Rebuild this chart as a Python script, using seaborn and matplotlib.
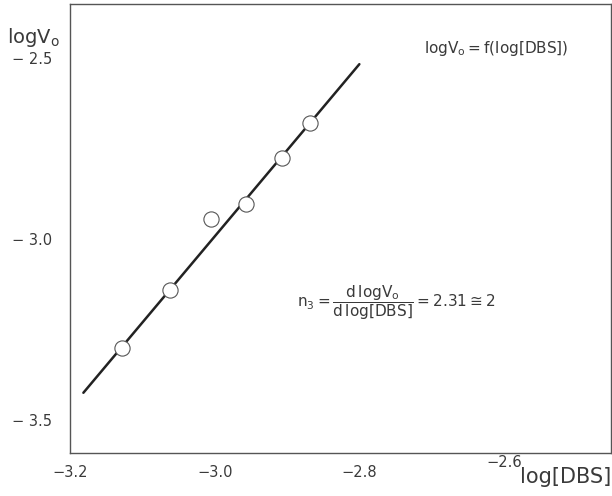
import numpy as np
import pandas as pd
import seaborn as sns
import matplotlib.pyplot as plt

log_dbs = [-3.128, -3.062, -3.005, -2.957, -2.907, -2.868]
log_v0 = [-3.301, -3.141, -2.945, -2.903, -2.776, -2.680]

# drawn regression line (end points)
fit_x = [-3.182, -2.800]
fit_y = [-3.425, -2.517]

xticks_major = [-3.2, -3.0, -2.8, -2.6]
xticks_minor = [-3.1, -2.9, -2.7, -2.5]
yticks = [-2.5, -3.0, -3.5]

sns.set_style("white")
plt.rcParams["mathtext.fontset"] = "dejavusans"
plt.rcParams["font.family"] = ["DejaVu Sans"]

ink = "#3a3a3a"
df = pd.DataFrame({"x": log_dbs, "y": log_v0})
df_fit = pd.DataFrame({"x": fit_x, "y": fit_y})

fig = plt.figure(figsize=(6.12, 4.96), dpi=100)
ax = fig.add_axes([0.115, 0.087, 0.883, 0.904])

sns.lineplot(data=df_fit, x="x", y="y", ax=ax, color="#222222", linewidth=1.8)
sns.scatterplot(data=df, x="x", y="y", ax=ax, s=120, facecolor="white",
                edgecolor="#555555", linewidth=0.8, zorder=3)

ax.set_xlim(-3.2, -2.452)
ax.set_ylim(-3.591, -2.352)

for s in ax.spines.values():
    s.set_color("#555555")
    s.set_linewidth(1.0)

ax.set_xticks(xticks_major)
ax.set_xticks(xticks_minor, minor=True)
ax.set_xticklabels(["\u22123.2", "\u22123.0", "\u22122.8", ""])
ax.set_yticks(yticks)
ax.set_yticklabels(["\u2212 2.5", "\u2212 3.0", "\u2212 3.5"])
ax.tick_params(axis="both", which="major", direction="in", length=8, width=0.9,
               color="#555555", labelcolor=ink, labelsize=10.5)
ax.tick_params(axis="x", which="minor", direction="in", length=5, width=0.9,
               color="#555555")
ax.tick_params(axis="x", pad=9)
ax.tick_params(axis="y", pad=13)
ax.set_xlabel("")
ax.set_ylabel("")

# raised -2.6 label followed by the axis title
ax.text(-2.6, -0.022, "\u22122.6", transform=ax.get_xaxis_transform(),
        ha="center", va="center", fontsize=10.5, color=ink)
ax.text(1.0, -0.053, "log[DBS]", transform=ax.transAxes, ha="right",
        va="center", fontsize=15, color=ink)

fig.text(0.012, 0.925, r"$\mathrm{logV_o}$", ha="left", va="center",
         fontsize=14, color=ink)

ax.text(0.655, 0.902, r"$\mathrm{logV_o = f(log[DBS])}$", transform=ax.transAxes,
        ha="left", va="center", fontsize=11, color=ink)
ax.text(0.42, 0.335,
        r"$\mathrm{n_3 = \dfrac{d\,logV_o}{d\,log[DBS]} = 2.31 \cong 2}$",
        transform=ax.transAxes, ha="left", va="center", fontsize=11, color=ink)

fig.savefig("out.png", dpi=100)
